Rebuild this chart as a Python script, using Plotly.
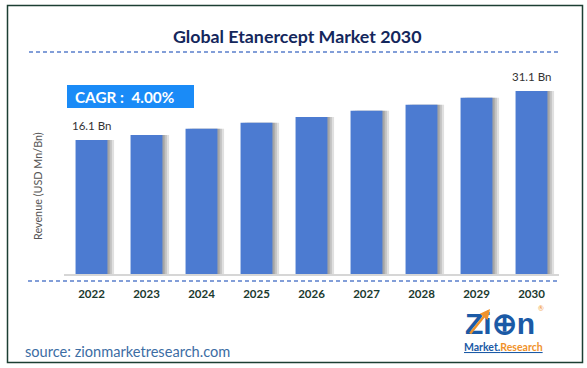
import plotly.graph_objects as go

# ---- data ----
years = ["2022", "2023", "2024", "2025", "2026", "2027", "2028", "2029", "2030"]
revenue = [16.1, 17.6, 19.5, 21.4, 23.1, 25.0, 26.9, 29.0, 31.1]
bar_labels = ["16.1 Bn", "", "", "", "", "", "", "", "31.1 Bn"]
title_text = "Global Etanercept Market 2030"
cagr_text = "CAGR :  4.00%"
y_title = "Revenue (USD Mn/Bn)"
source_text = "source: zionmarketresearch.com"

# ---- layout geometry ----
W, H = 587, 368
L, R, T, B = 64, 28, 70, 94
PW, PH = W - L - R, H - T - B
y_floor, y_top = -24.9, 37.5


def px(x):
    return (x - L) / PW


def py(y):
    return (H - B - y) / PH


FONT = "Lato"
BAR_W = 0.58

fig = go.Figure()

# soft shadow to the right of each bar
for k, a in [(3, 0.16), (2, 0.18), (1, 0.22)]:
    fig.add_trace(go.Bar(
        x=years, y=[v - y_floor for v in revenue], base=y_floor,
        width=BAR_W, offset=-BAR_W / 2 + k * 2.2 / 55,
        marker=dict(color=f"rgba(60,60,60,{a})", line=dict(width=0)),
        hoverinfo="skip", showlegend=False,
    ))

fig.add_trace(go.Bar(
    x=years, y=[v - y_floor for v in revenue], base=y_floor,
    width=BAR_W, offset=-BAR_W / 2,
    marker=dict(color="#4c7bd1", line=dict(width=0)),
    showlegend=False,
))

annotations = []
for i, (v, lab) in enumerate(zip(revenue, bar_labels)):
    if lab:
        annotations.append(dict(
            x=i, y=v, xref="x", yref="y", text=lab, showarrow=False,
            yanchor="bottom", yshift=6, font=dict(family=FONT, size=11.5, color="#333333"),
        ))

annotations += [
    dict(x=px(297), y=py(36), xref="paper", yref="paper", text=f"<b>{title_text}</b>",
         showarrow=False, xanchor="center", yanchor="middle",
         font=dict(family=FONT, size=17.8, color="#14275c")),
    dict(x=px(73), y=py(96.5), xref="paper", yref="paper", text=f"<b>{cagr_text}</b>",
         showarrow=False, xanchor="left", yanchor="middle",
         font=dict(family=FONT, size=15.3, color="white")),
    dict(x=px(37), y=py(186), xref="paper", yref="paper", text=y_title, textangle=-90,
         showarrow=False, xanchor="center", yanchor="middle",
         font=dict(family=FONT, size=10.8, color="#555555")),
    dict(x=px(23), y=py(351), xref="paper", yref="paper", text=source_text,
         showarrow=False, xanchor="left", yanchor="middle",
         font=dict(family=FONT, size=14.6, color="#3c6da4")),
    # logo
    dict(x=px(500), y=py(323), xref="paper", yref="paper", text="<b>Zi⊕n</b>",
         showarrow=False, xanchor="center", yanchor="middle", borderpad=0,
         font=dict(family="Liberation Sans", size=30, color="#1b5aa6")),
    dict(x=px(503), y=py(347), xref="paper", yref="paper",
         text="<b><u><span style='color:#1b5aa6'>Market.</span><span style='color:#f0922b'>Research</span></u></b>",
         showarrow=False, xanchor="center", yanchor="middle", borderpad=0,
         font=dict(family=FONT, size=10.5, color="#1b5aa6")),
    dict(x=px(490), y=py(309), xref="paper", yref="paper", text="",
         showarrow=True, ax=-21, ay=26, arrowhead=2, arrowsize=0.8, arrowwidth=2.5,
         arrowcolor="#f0922b"),
    dict(x=px(545), y=py(313), xref="paper", yref="paper", text="®",
         showarrow=False, borderpad=0, font=dict(family=FONT, size=7, color="#f0922b")),
]

shapes = [
    # outer frame
    dict(type="rect", xref="paper", yref="paper", x0=px(7.5), x1=px(582.5), y0=py(5.5), y1=py(362.5),
         line=dict(color="#1c3f33", width=1.5), fillcolor="rgba(0,0,0,0)", layer="below"),
    # top dashed separator
    dict(type="line", xref="paper", yref="paper", x0=px(29), x1=px(560), y0=py(52), y1=py(52),
         line=dict(color="#5a7fcc", width=1.3, dash="4px,3px")),
    # bottom dashed separator
    dict(type="line", xref="paper", yref="paper", x0=px(28), x1=px(559), y0=py(281), y1=py(281),
         line=dict(color="#5a7fcc", width=1.3, dash="4px,3px")),
    # CAGR box
    dict(type="rect", xref="paper", yref="paper", x0=px(67), x1=px(194), y0=py(85), y1=py(108),
         line=dict(width=0), fillcolor="#1a8bf7", layer="below"),
]

fig.update_layout(
    width=W, height=H,
    margin=dict(l=L, r=R, t=T, b=B),
    paper_bgcolor="white", plot_bgcolor="white",
    barmode="overlay",
    showlegend=False,
    annotations=annotations,
    shapes=shapes,
    xaxis=dict(
        type="category", range=[-0.5, len(years) - 0.5],
        showgrid=False, zeroline=False, showline=True, linecolor="#d6d6d6", linewidth=2,
        ticks="", ticklabelstandoff=8,
        tickfont=dict(family=FONT, size=11.5, color="#1b3a2f", weight="bold"),
        fixedrange=True,
    ),
    yaxis=dict(
        range=[y_floor, y_top], showgrid=False, zeroline=False, showline=False,
        showticklabels=False, ticks="", fixedrange=True,
    ),
)

fig.write_html(
    "out.html",
    config={"displayModeBar": False},
    post_script="document.body.style.margin='0';document.body.style.overflow='hidden';",
)
